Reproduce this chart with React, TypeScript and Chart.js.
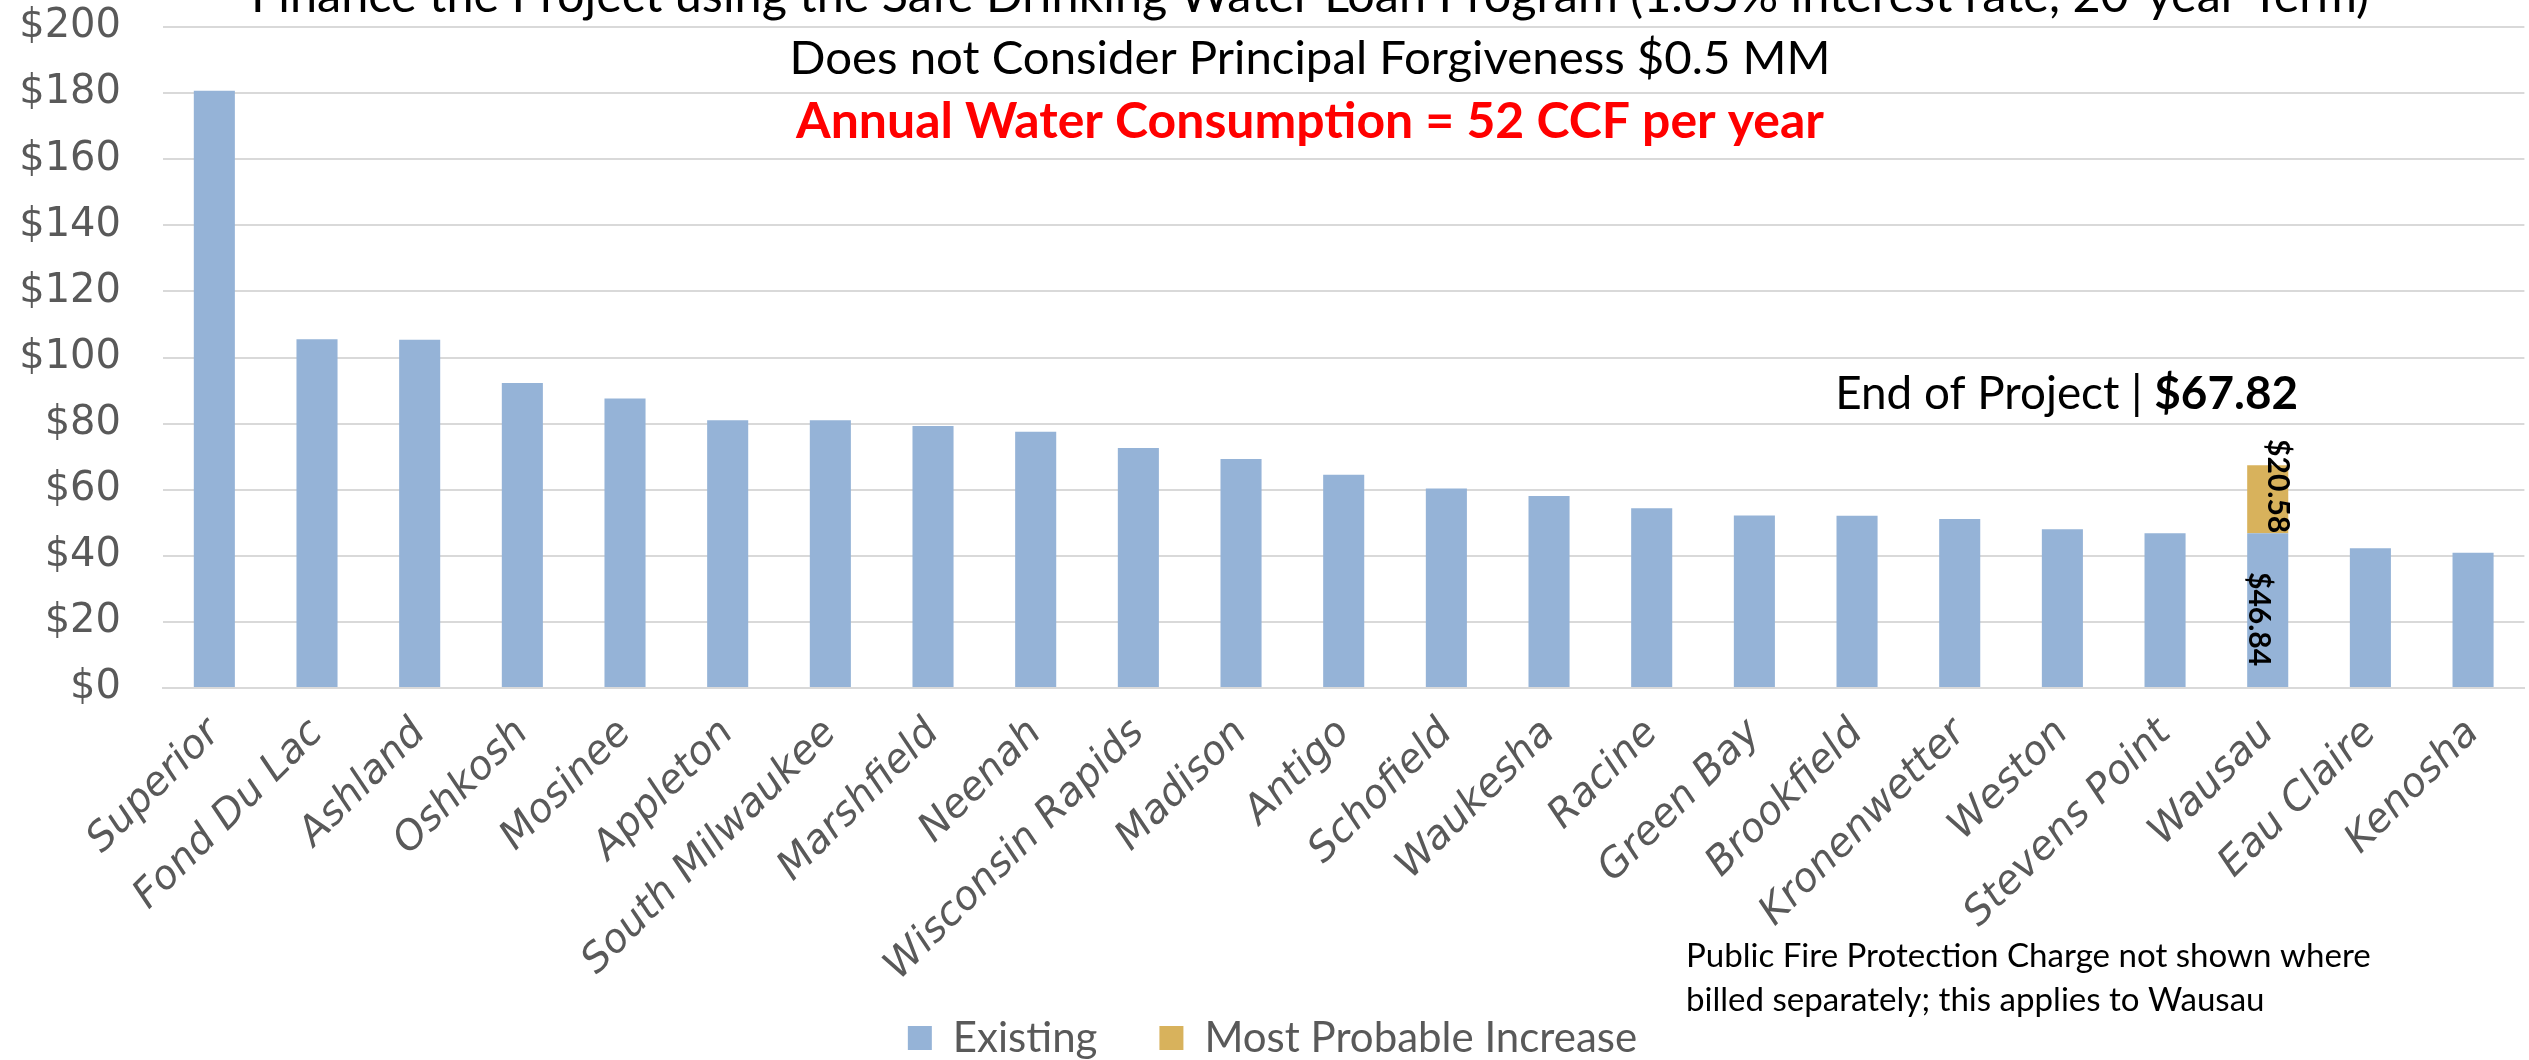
import React, { useEffect, useRef } from "react";
import { Chart, registerables } from "chart.js";

Chart.register(...registerables);

// ---------- data ----------
const categories = [
  "Superior", "Fond Du Lac", "Ashland", "Oshkosh", "Mosinee", "Appleton",
  "South Milwaukee", "Marshfield", "Neenah", "Wisconsin Rapids", "Madison",
  "Antigo", "Schofield", "Waukesha", "Racine", "Green Bay", "Brookfield",
  "Kronenwetter", "Weston", "Stevens Point", "Wausau", "Eau Claire", "Kenosha",
];
const existing = [
  180.7, 105.5, 105.4, 92.3, 87.6, 81.0, 81.0, 79.3, 77.5, 72.6, 69.3,
  64.5, 60.4, 58.1, 54.4, 52.2, 52.1, 51.1, 48.0, 46.8, 46.84, 42.3, 40.9,
];
const increase = [
  null, null, null, null, null, null, null, null, null, null, null,
  null, null, null, null, null, null, null, null, null, 20.58, null, null,
];
const seriesNames = ["Existing", "Most Probable Increase"];
const labelledCategory = "Wausau";
const endOfProjectTotal = 67.82;
const yTicks = [0, 20, 40, 60, 80, 100, 120, 140, 160, 180, 200];

const titleLines = [
  "Finance the Project using the Safe Drinking Water Loan Program (1.65% interest rate, 20-year Term)",
  "Does not Consider Principal Forgiveness $0.5 MM",
  "Annual Water Consumption = 52 CCF per year",
];
const footnoteLines = [
  "Public Fire Protection Charge not shown where",
  "billed separately; this applies to Wausau",
];

// ---------- styles ----------
const BLUE = "#95B3D7";
const GOLD = "#D8B25C";
const AXIS_TEXT = "#595959";
const GRID = "#D9D9D9";
const TEXT_FONT = "Lato";
const AXIS_FONT = "DejaVu Sans";

function fitSize(ctx: CanvasRenderingContext2D, text: string, weight: string, family: string, target: number) {
  ctx.font = `${weight} 100px ${family}`;
  const w = ctx.measureText(text).width;
  return (100 * target) / w;
}

const annotationPlugin = {
  id: "annotations",
  afterLayout(chart: any) {
    // let the rotated category labels run below the axis box (into the legend gap)
    const xs = chart.scales.x;
    if (xs) xs.bottom = chart.height;
  },
  afterDatasetsDraw(chart: any) {
    const ctx: CanvasRenderingContext2D = chart.ctx;
    const idx = categories.indexOf(labelledCategory);
    ctx.save();
    ctx.fillStyle = "#000";
    ctx.textAlign = "center";
    ctx.textBaseline = "middle";
    ctx.font = `bold 30px ${TEXT_FONT}`;
    chart.data.datasets.forEach((ds: any, di: number) => {
      const v = ds.data[idx];
      if (v == null) return;
      const el = chart.getDatasetMeta(di).data[idx];
      const mid = (el.y + el.base) / 2;
      const cx = di === 0 ? el.x - 9 : el.x + 10;
      const cy = di === 0 ? mid + 9 : mid - 13;
      ctx.save();
      ctx.translate(cx, cy);
      ctx.rotate(Math.PI / 2);
      ctx.fillText("$" + Number(v).toFixed(2), 0, 0);
      ctx.restore();
    });
    ctx.restore();
  },
  afterDraw(chart: any) {
    const ctx: CanvasRenderingContext2D = chart.ctx;
    const k = chart.width / 2529;
    ctx.save();
    ctx.textBaseline = "alphabetic";
    // titles
    ctx.textAlign = "center";
    const cx = 1310 * k;
    const s1 = fitSize(ctx, titleLines[0], "normal", TEXT_FONT, 2119 * k);
    ctx.font = `normal ${s1}px ${TEXT_FONT}`;
    ctx.fillStyle = "#000";
    ctx.fillText(titleLines[0], cx, 12 * k);
    const s2 = fitSize(ctx, titleLines[1], "normal", TEXT_FONT, 1041 * k);
    ctx.font = `normal ${s2}px ${TEXT_FONT}`;
    ctx.fillText(titleLines[1], cx, 74 * k);
    const s3 = fitSize(ctx, titleLines[2], "bold", TEXT_FONT, 1028 * k);
    ctx.font = `bold ${s3}px ${TEXT_FONT}`;
    ctx.fillStyle = "#FF0000";
    ctx.fillText(titleLines[2], cx, 138 * k);

    // End of project
    const pre = "End of Project | ";
    const val = "$" + endOfProjectTotal.toFixed(2);
    ctx.font = `normal 100px ${TEXT_FONT}`;
    const wPre = ctx.measureText(pre).width;
    ctx.font = `bold 100px ${TEXT_FONT}`;
    const wVal = ctx.measureText(val).width;
    const es = (100 * 463 * k) / (wPre + wVal);
    const right = 2298 * k;
    ctx.textAlign = "right";
    ctx.fillStyle = "#000";
    ctx.font = `bold ${es}px ${TEXT_FONT}`;
    ctx.fillText(val, right, 409 * k);
    const wv = ctx.measureText(val).width;
    ctx.font = `normal ${es}px ${TEXT_FONT}`;
    ctx.fillText(pre, right - wv, 409 * k);

    // footnote
    ctx.textAlign = "left";
    const fs = fitSize(ctx, footnoteLines[0], "normal", TEXT_FONT, 685 * k);
    ctx.font = `normal ${fs}px ${TEXT_FONT}`;
    ctx.fillStyle = "#000";
    ctx.fillText(footnoteLines[0], 1686 * k, 967 * k);
    ctx.fillText(footnoteLines[1], 1686 * k, 1011 * k);
    ctx.restore();
  },
};

export default function App() {
  const ref = useRef<HTMLCanvasElement>(null);
  useEffect(() => {
    document.body.style.margin = "0";
    const canvas = ref.current!;
    const chart = new Chart(canvas, {
      type: "bar",
      data: {
        labels: categories,
        datasets: [
          {
            label: seriesNames[0],
            data: existing,
            backgroundColor: BLUE,
            barPercentage: 0.4,
            categoryPercentage: 1,
            stack: "s",
          },
          {
            label: seriesNames[1],
            data: increase as any,
            backgroundColor: GOLD,
            barPercentage: 0.4,
            categoryPercentage: 1,
            stack: "s",
          },
        ],
      },
      options: {
        responsive: false,
        animation: false,
        layout: { padding: { top: 0, left: 16, right: 0, bottom: 0 } },
        scales: {
          x: {
            stacked: true,
            grid: { display: false, drawTicks: false },
            border: { color: GRID, width: 2 },
            ticks: {
              color: AXIS_TEXT,
              font: { family: AXIS_FONT, size: 40, style: "italic" },
              maxRotation: 45,
              minRotation: 45,
              padding: 22,
              autoSkip: false,
            },
            afterFit: (s: any) => {
              s.height = 267;
            },
          },
          y: {
            stacked: true,
            min: 0,
            max: 200,
            afterBuildTicks: (s: any) => {
              s.ticks = yTicks.map((v) => ({ value: v }));
            },
            ticks: {
              color: AXIS_TEXT,
              font: { family: AXIS_FONT, size: 40 },
              padding: 3,
              callback: (v: any) => "$" + v,
            },
            grid: {
              color: GRID,
              lineWidth: 2,
              drawTicks: true,
              tickLength: 39,
              tickColor: "rgba(0,0,0,0)",
            },
            border: { display: false },
            afterFit: (s: any) => {
              s.width = 147;
            },
          },
        },
        plugins: {
          legend: {
            position: "bottom",
            labels: {
              boxWidth: 24,
              boxHeight: 24,
              padding: 62,
              color: AXIS_TEXT,
              font: { family: TEXT_FONT, size: 42 },
            },
          },
          tooltip: { enabled: false },
        },
      } as any,
      plugins: [annotationPlugin],
    });
    return () => chart.destroy();
  }, []);
  return (
    <div style={{ width: 2529, height: 1060, overflow: "hidden", background: "#fff" }}>
      <canvas ref={ref} width={2529} height={1069} style={{ display: "block" }} />
    </div>
  );
}
